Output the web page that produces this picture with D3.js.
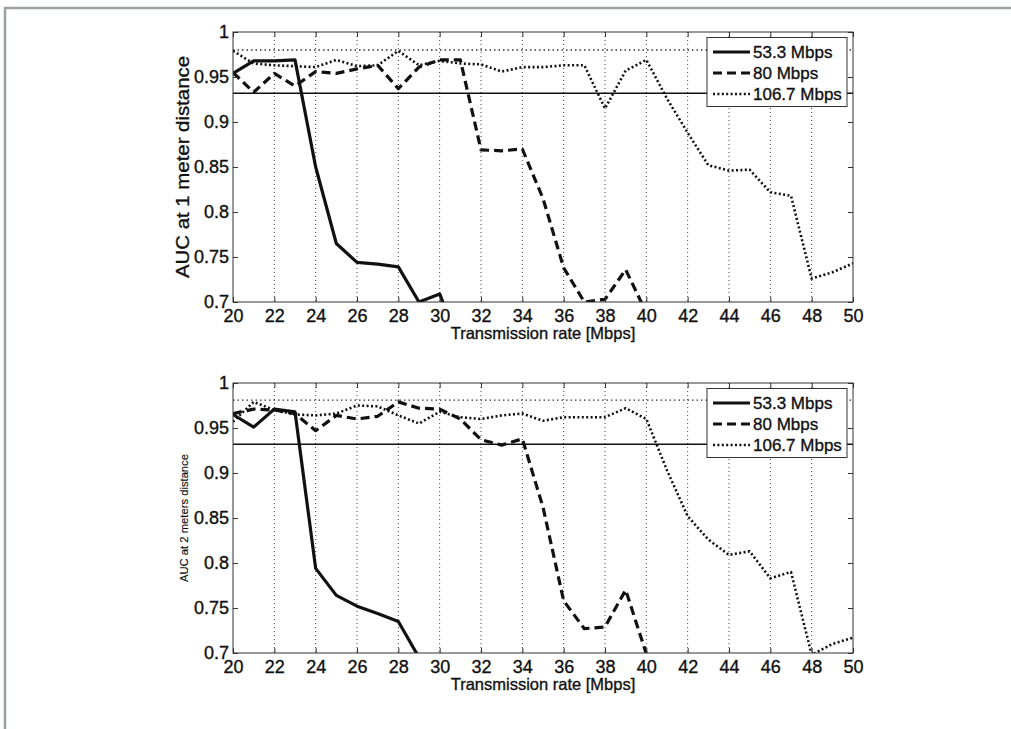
<!DOCTYPE html>
<html>
<head>
<meta charset="utf-8">
<script src="https://cdn.jsdelivr.net/npm/d3@7"></script>
<style>
  body { margin: 0; background: #fff; }
  svg { display: block; font-family: "Liberation Sans", Arial, Helvetica, sans-serif; }
  text { stroke: #111; stroke-width: 0.35px; }
</style>
</head>
<body>
<svg id="chart" width="1011" height="729"></svg>
<script>
// transmission rate for each sample point (Mbps)
const rates = [20, 21, 22, 23, 24, 25, 26, 27, 28, 29, 30, 31, 32, 33, 34, 35, 36, 37, 38, 39, 40, 41, 42, 43, 44, 45, 46, 47, 48, 49, 50];
const xTicks = [20, 22, 24, 26, 28, 30, 32, 34, 36, 38, 40, 42, 44, 46, 48, 50];
const yTicks = [0.7, 0.75, 0.8, 0.85, 0.9, 0.95, 1];
const seriesNames = ["53.3 Mbps", "80 Mbps", "106.7 Mbps"];

// AUC at 1 meter
const auc1m53 = [0.954, 0.968, 0.968, 0.969, 0.85, 0.765, 0.744, 0.742, 0.739, 0.70, 0.709, 0.65];
const auc1m80 = [0.955, 0.933, 0.954, 0.94, 0.956, 0.954, 0.959, 0.963, 0.937, 0.961, 0.969, 0.969, 0.869, 0.868, 0.870, 0.815, 0.738, 0.70, 0.703, 0.736, 0.688];
const auc1m107 = [0.979, 0.965, 0.963, 0.962, 0.961, 0.969, 0.962, 0.963, 0.979, 0.963, 0.968, 0.965, 0.964, 0.956, 0.961, 0.961, 0.963, 0.963, 0.915, 0.957, 0.969, 0.926, 0.888, 0.852, 0.846, 0.847, 0.822, 0.818, 0.726, 0.733, 0.743];
const refLines1m = [0.932, 0.98];

// AUC at 2 meters
const auc2m53 = [0.965, 0.951, 0.971, 0.968, 0.794, 0.764, 0.752, 0.744, 0.735, 0.695];
const auc2m80 = [0.966, 0.971, 0.970, 0.966, 0.947, 0.964, 0.960, 0.963, 0.979, 0.972, 0.971, 0.960, 0.937, 0.931, 0.938, 0.862, 0.758, 0.727, 0.729, 0.770, 0.699];
const auc2m107 = [0.957, 0.979, 0.970, 0.965, 0.964, 0.966, 0.975, 0.974, 0.964, 0.955, 0.968, 0.962, 0.960, 0.964, 0.966, 0.958, 0.962, 0.962, 0.962, 0.972, 0.960, 0.903, 0.852, 0.826, 0.809, 0.813, 0.783, 0.790, 0.698, 0.710, 0.717];
const refLines2m = [0.932, 0.981];

const lineStyles = [
    { width: 3.2, dash: null },
    { width: 3.2, dash: "9,5" },
    { width: 2.6, dash: "2,2.4" }
];

const left = 233, right = 853;
const ink = "#111";

const panels = [
    { top: 32, bottom: 302, yLabel: "AUC at 1 meter distance", labelSize: 18, labelLength: 222, labelX: 189,
      series: [auc1m53, auc1m80, auc1m107], refs: refLines1m },
    { top: 383, bottom: 653, yLabel: "AUC at 2 meters distance", labelSize: 11, labelLength: 128, labelX: 188,
      series: [auc2m53, auc2m80, auc2m107], refs: refLines2m }
];

const svg = d3.select("#chart");

// grey page frame
svg.append("path")
    .attr("d", "M5,729 V8 H1011")
    .attr("fill", "none")
    .attr("stroke", "#9ca1a5")
    .attr("stroke-width", 2.5);

const x = d3.scaleLinear().domain([20, 50]).range([left, right]);

const styleAxis = (a) => {
    a.select(".domain").remove();
    a.attr("font-size", null).attr("font-family", null);
    a.selectAll("line").attr("stroke", "#333");
    a.selectAll("text").attr("fill", ink).style("font-size", "18px");
}

const drawPanel = (p, idx) => {
    const y = d3.scaleLinear().domain([0.7, 1]).range([p.bottom, p.top]);
    const g = svg.append("g");
    const clipId = "clip" + idx;

    svg.append("clipPath").attr("id", clipId)
        .append("rect")
        .attr("x", left).attr("y", p.top)
        .attr("width", right - left).attr("height", p.bottom - p.top);

    // dotted vertical grid
    g.append("g").selectAll("line")
        .data(xTicks.slice(1, -1))
        .join("line")
        .attr("x1", d => x(d)).attr("x2", d => x(d))
        .attr("y1", p.top).attr("y2", p.bottom)
        .attr("stroke", "#444")
        .attr("stroke-width", 1)
        .attr("stroke-dasharray", "1,3");

    // threshold lines
    g.append("line")
        .attr("x1", left).attr("x2", right)
        .attr("y1", y(p.refs[0])).attr("y2", y(p.refs[0]))
        .attr("stroke", ink).attr("stroke-width", 1.6);
    g.append("line")
        .attr("x1", left).attr("x2", right)
        .attr("y1", y(p.refs[1])).attr("y2", y(p.refs[1]))
        .attr("stroke", "#333").attr("stroke-width", 1.3)
        .attr("stroke-dasharray", "1.5,3");

    const line = d3.line()
        .x((d, i) => x(rates[i]))
        .y(d => y(d));

    g.append("g").attr("clip-path", `url(#${clipId})`)
        .selectAll("path")
        .data(p.series)
        .join("path")
        .attr("d", line)
        .attr("fill", "none")
        .attr("stroke", ink)
        .attr("stroke-width", (d, i) => lineStyles[i].width)
        .attr("stroke-dasharray", (d, i) => lineStyles[i].dash)
        .attr("stroke-linejoin", "round");

    // axes with inward ticks on all sides
    g.append("g")
        .attr("transform", `translate(0,${p.bottom})`)
        .call(d3.axisBottom(x).tickValues(xTicks).tickSize(-5).tickPadding(7).tickFormat(d => String(d)))
        .call(styleAxis);
    g.append("g")
        .attr("transform", `translate(0,${p.top})`)
        .call(d3.axisTop(x).tickValues(xTicks).tickSize(-5).tickFormat(""))
        .call(styleAxis);
    g.append("g")
        .attr("transform", `translate(${left},0)`)
        .call(d3.axisLeft(y).tickValues(yTicks).tickSize(-5).tickPadding(4).tickFormat(d => String(d)))
        .call(styleAxis);
    g.append("g")
        .attr("transform", `translate(${right},0)`)
        .call(d3.axisRight(y).tickValues(yTicks).tickSize(-5).tickFormat(""))
        .call(styleAxis);

    g.append("rect")
        .attr("x", left).attr("y", p.top)
        .attr("width", right - left).attr("height", p.bottom - p.top)
        .attr("fill", "none")
        .attr("stroke", "#333");

    // axis titles
    g.append("text")
        .attr("x", (left + right) / 2)
        .attr("y", p.bottom + 37)
        .attr("text-anchor", "middle")
        .attr("fill", ink)
        .style("font-size", "16.5px")
        .text("Transmission rate [Mbps]");

    g.append("text")
        .attr("transform", `translate(${p.labelX},${(p.top + p.bottom) / 2}) rotate(-90)`)
        .attr("text-anchor", "middle")
        .attr("fill", ink)
        .attr("textLength", p.labelLength)
        .attr("lengthAdjust", "spacingAndGlyphs")
        .style("font-size", p.labelSize + "px")
        .style("stroke-width", p.labelSize < 14 ? "0.15px" : null)
        .text(p.yLabel);

    // legend
    const lg = g.append("g").attr("transform", `translate(${right - 146},${p.top + 5.5})`);
    lg.append("rect")
        .attr("width", 140).attr("height", 69)
        .attr("fill", "#fff")
        .attr("stroke", "#333");
    const entry = lg.selectAll("g.entry")
        .data(seriesNames)
        .join("g")
        .attr("class", "entry")
        .attr("transform", (d, i) => `translate(0,${14.5 + i * 21})`);
    entry.append("line")
        .attr("x1", 6).attr("x2", 43)
        .attr("stroke", ink)
        .attr("stroke-width", (d, i) => lineStyles[i].width)
        .attr("stroke-dasharray", (d, i) => lineStyles[i].dash);
    entry.append("text")
        .attr("x", 46)
        .attr("dy", "0.35em")
        .attr("fill", ink)
        .style("font-size", "17px")
        .text(d => d);
}

panels.forEach(drawPanel);
</script>
</body>
</html>
